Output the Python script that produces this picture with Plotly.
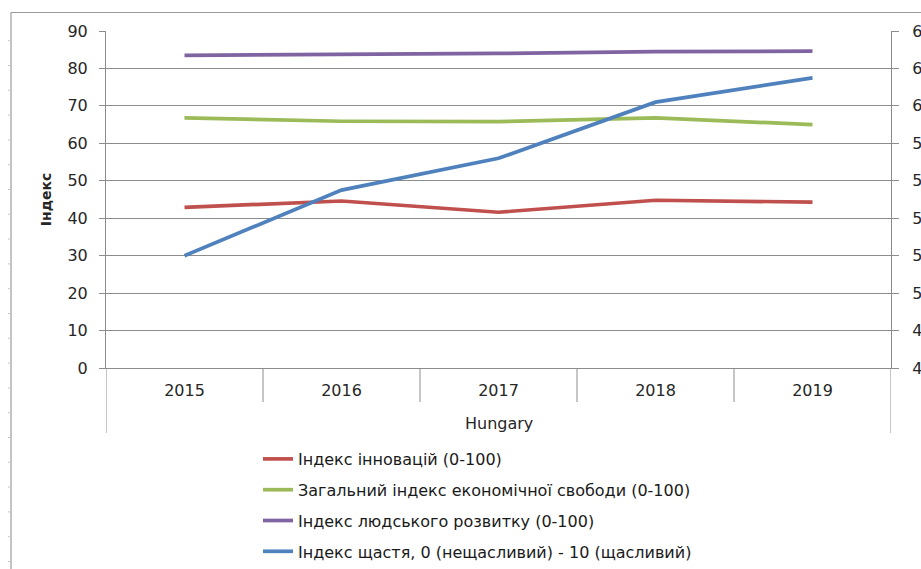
import plotly.graph_objects as go

years = ["2015", "2016", "2017", "2018", "2019"]
innovation = [42.9, 44.6, 41.6, 44.8, 44.3]
econ_freedom = [66.8, 65.9, 65.8, 66.8, 65.0]
hdi = [83.5, 83.7, 84.0, 84.5, 84.6]
happiness = [5.20, 5.55, 5.72, 6.02, 6.15]

names = [
    "Індекс інновацій (0-100)",
    "Загальний індекс економічної свободи (0-100)",
    "Індекс людського розвитку (0-100)",
    "Індекс щастя, 0 (нещасливий) - 10 (щасливий)",
]
colors = ["#C0504D", "#9BBB59", "#8064A2", "#4F81BD"]

W, H = 921, 569
L, R, T, B = 106, 30, 31, 201
PW, PH = W - L - R, H - T - B
FONT = "DejaVu Sans"
GRID = "#8c8c8c"


def px_x(x):
    return (x - L) / PW


def px_y(y):
    return (H - B - y) / PH


fig = go.Figure()
for i, vals in enumerate([innovation, econ_freedom, hdi]):
    fig.add_trace(go.Scatter(x=years, y=vals, name=names[i], mode="lines",
                             line=dict(color=colors[i], width=3.7),
                             legendgroup=f"g{i}"))
fig.add_trace(go.Scatter(x=years, y=happiness, name=names[3], mode="lines",
                         line=dict(color=colors[3], width=3.7),
                         yaxis="y2", legendgroup="g3"))

shapes = []
# category dividers under the x axis
for k in range(6):
    xb = k - 0.5
    y1 = px_y(433) if k in (0, 5) else px_y(402)
    shapes.append(dict(type="line", xref="x", yref="paper", x0=xb, x1=xb,
                       y0=0, y1=y1, line=dict(color=GRID, width=1)))
# outer frame (left and top)
shapes.append(dict(type="line", xref="paper", yref="paper",
                   x0=px_x(11), x1=px_x(11), y0=px_y(12.5), y1=px_y(569),
                   line=dict(color="#b0b0b0", width=1.5)))
shapes.append(dict(type="line", xref="paper", yref="paper",
                   x0=px_x(11), x1=px_x(921), y0=px_y(12.5), y1=px_y(12.5),
                   line=dict(color="#999999", width=1.2)))
yy = 40.7
while yy < 569:
    shapes.append(dict(type="line", xref="paper", yref="paper",
                       x0=px_x(8), x1=px_x(11), y0=px_y(yy), y1=px_y(yy),
                       line=dict(color="#c8c8c8", width=1)))
    yy += 24.8

fig.update_layout(
    width=W, height=H,
    margin=dict(l=L, r=R, t=T, b=B, autoexpand=False),
    paper_bgcolor="white", plot_bgcolor="white",
    font=dict(family=FONT, size=16, color="#262626"),
    separators=", ",
    showlegend=True,
    legend=dict(x=px_x(258), y=px_y(442), xanchor="left", yanchor="top",
                orientation="v", tracegroupgap=7,
                font=dict(family=FONT, size=16, color="#1a1a1a"),
                bgcolor="rgba(0,0,0,0)"),
    xaxis=dict(type="category", showgrid=False, showline=False, ticks="",
               tickfont=dict(size=16), ticklabelstandoff=8,
               range=[-0.5, 4.5], zeroline=False),
    yaxis=dict(range=[0, 90], dtick=10, tick0=0, showgrid=True,
               gridcolor=GRID, gridwidth=1, showline=True, linecolor=GRID,
               ticks="outside", ticklen=6, tickcolor=GRID, zeroline=False,
               tickfont=dict(size=16), ticklabelstandoff=8,
               title=dict(text="Індекс", font=dict(family=FONT, size=14, weight="bold"),
                          standoff=12),
               automargin=False),
    yaxis2=dict(range=[4.6, 6.4], dtick=0.2, tick0=4.6, overlaying="y",
                side="right", showgrid=False, showline=True, linecolor=GRID,
                ticks="outside", ticklen=7, tickcolor=GRID, tickformat=".1f",
                tickfont=dict(size=16), ticklabelstandoff=10,
                zeroline=False, automargin=False),
    shapes=shapes,
    annotations=[dict(text="Hungary", xref="paper", yref="paper",
                      x=0.5, y=px_y(423), xanchor="center", yanchor="middle",
                      showarrow=False, font=dict(family=FONT, size=16))],
)
fig.update_xaxes(showline=True, linecolor=GRID, mirror=False)

fig.write_html("out.html",
               config={"displayModeBar": False},
               post_script="document.body.style.margin='0';"
                           "document.body.style.overflow='hidden';")
